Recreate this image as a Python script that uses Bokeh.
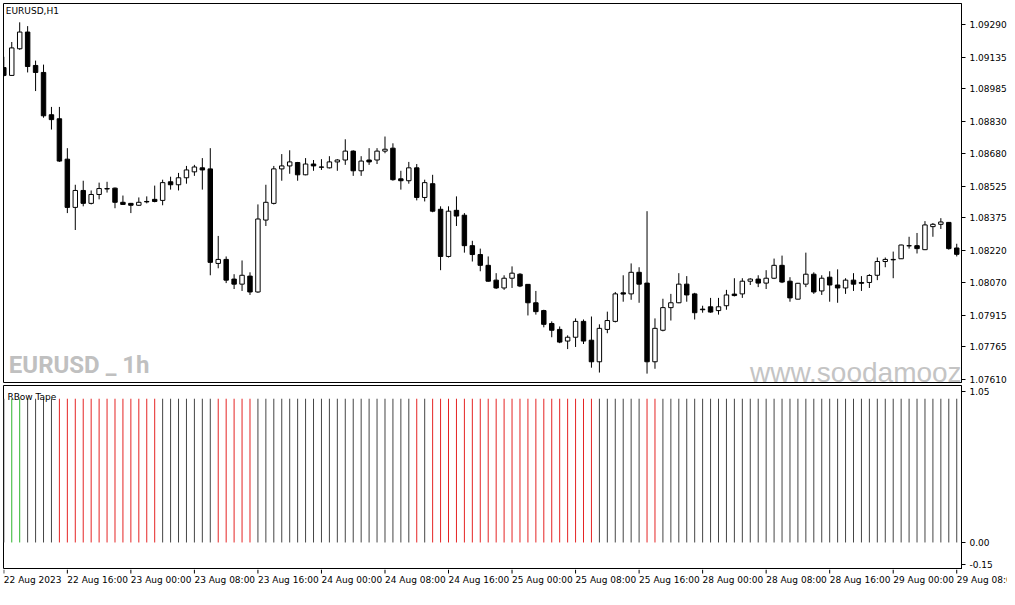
from bokeh.plotting import figure
from bokeh.layouts import column
from bokeh.models import ColumnDataSource, FixedTicker, PrintfTickFormatter, Label, Range1d
from bokeh.embed import file_html
from bokeh.resources import INLINE
from bokeh.core.properties import value

# ---------------- data (EURUSD, H1) ----------------
opens = [
    1.09085, 1.09048, 1.09174, 1.09253, 1.09095, 1.09062, 1.08862, 1.08843, 1.08652, 1.08424,
    1.08504, 1.08443, 1.08485, 1.08513, 1.08515, 1.08448, 1.08443, 1.08434, 1.08452, 1.08462,
    1.08457, 1.08545, 1.08531, 1.08564, 1.08592, 1.08611, 1.08606, 1.08159, 1.08178, 1.08085,
    1.08061, 1.08099, 1.08024, 1.08364, 1.08443, 1.08606, 1.08620, 1.08636, 1.08578, 1.08629,
    1.08615, 1.08611, 1.08639, 1.08648, 1.08690, 1.08597, 1.08648, 1.08648, 1.08690, 1.08704,
    1.08559, 1.08550, 1.08611, 1.08471, 1.08536, 1.08415, 1.08192, 1.08410, 1.08387, 1.08243,
    1.08201, 1.08150, 1.08080, 1.08043, 1.08089, 1.08108, 1.08060, 1.07973, 1.07936, 1.07875,
    1.07847, 1.07792, 1.07810, 1.07885, 1.07796, 1.07694, 1.07847, 1.07885, 1.08020, 1.08015,
    1.08117, 1.08066, 1.07694, 1.07843, 1.07950, 1.07973, 1.08061, 1.08015, 1.07943, 1.07954,
    1.07936, 1.07959, 1.08014, 1.08015, 1.08075, 1.08085, 1.08066, 1.08089, 1.08150, 1.08075,
    1.07990, 1.08061, 1.08108, 1.08029, 1.08094, 1.08057, 1.08043, 1.08080, 1.08069, 1.08069,
    1.08103, 1.08168, 1.08176, 1.08181, 1.08243, 1.08243, 1.08224, 1.08333, 1.08344, 1.08353,
    1.08232]
highs = [
    1.09136, 1.09206, 1.09299, 1.09281, 1.09118, 1.09099, 1.08899, 1.08899, 1.08704, 1.08531,
    1.08550, 1.08504, 1.08541, 1.08545, 1.08518, 1.08480, 1.08445, 1.08471, 1.08476, 1.08527,
    1.08555, 1.08569, 1.08587, 1.08620, 1.08625, 1.08657, 1.08704, 1.08289, 1.08192, 1.08108,
    1.08173, 1.08117, 1.08438, 1.08531, 1.08620, 1.08676, 1.08694, 1.08639, 1.08657, 1.08648,
    1.08652, 1.08666, 1.08652, 1.08746, 1.08694, 1.08666, 1.08704, 1.08704, 1.08759, 1.08727,
    1.08597, 1.08639, 1.08629, 1.08555, 1.08578, 1.08429, 1.08429, 1.08476, 1.08397, 1.08266,
    1.08229, 1.08192, 1.08113, 1.08103, 1.08145, 1.08113, 1.08061, 1.08029, 1.07940, 1.07885,
    1.07861, 1.07819, 1.07899, 1.07894, 1.07908, 1.07871, 1.07931, 1.08024, 1.08103, 1.08159,
    1.08141, 1.08406, 1.07899, 1.07992, 1.08015, 1.08113, 1.08099, 1.08020, 1.07959, 1.07996,
    1.07996, 1.08034, 1.08089, 1.08089, 1.08089, 1.08103, 1.08127, 1.08182, 1.08196, 1.08094,
    1.08067, 1.08210, 1.08117, 1.08103, 1.08122, 1.08131, 1.08089, 1.08113, 1.08099, 1.08108,
    1.08187, 1.08187, 1.08215, 1.08248, 1.08285, 1.08303, 1.08359, 1.08350, 1.08373, 1.08355,
    1.08252]
lows = [
    1.09043, 1.09046, 1.09169, 1.09062, 1.08974, 1.08848, 1.08792, 1.08639, 1.08397, 1.08317,
    1.08429, 1.08438, 1.08462, 1.08494, 1.08420, 1.08436, 1.08397, 1.08431, 1.08443, 1.08448,
    1.08434, 1.08508, 1.08504, 1.08536, 1.08573, 1.08508, 1.08103, 1.08136, 1.08066, 1.08038,
    1.08029, 1.08010, 1.08020, 1.08336, 1.08438, 1.08550, 1.08583, 1.08550, 1.08576, 1.08597,
    1.08601, 1.08608, 1.08597, 1.08625, 1.08573, 1.08573, 1.08625, 1.08629, 1.08680, 1.08550,
    1.08508, 1.08536, 1.08457, 1.08452, 1.08401, 1.08127, 1.08187, 1.08336, 1.08210, 1.08168,
    1.08122, 1.08073, 1.08038, 1.08034, 1.08043, 1.08047, 1.07913, 1.07917, 1.07857, 1.07810,
    1.07782, 1.07754, 1.07764, 1.07778, 1.07666, 1.07643, 1.07829, 1.07880, 1.07978, 1.07987,
    1.07973, 1.07638, 1.07661, 1.07838, 1.07889, 1.07971, 1.07978, 1.07894, 1.07926, 1.07926,
    1.07917, 1.07940, 1.08003, 1.07996, 1.08057, 1.08047, 1.08038, 1.08085, 1.08066, 1.07978,
    1.07989, 1.08047, 1.08015, 1.08010, 1.07978, 1.07973, 1.08015, 1.08029, 1.08029, 1.08043,
    1.08080, 1.08141, 1.08089, 1.08180, 1.08229, 1.08206, 1.08222, 1.08285, 1.08322, 1.08224,
    1.08192]
closes = [
    1.09048, 1.09178, 1.09253, 1.09090, 1.09062, 1.08857, 1.08839, 1.08643, 1.08424, 1.08504,
    1.08443, 1.08485, 1.08513, 1.08511, 1.08448, 1.08438, 1.08434, 1.08448, 1.08450, 1.08452,
    1.08541, 1.08531, 1.08564, 1.08601, 1.08615, 1.08601, 1.08164, 1.08178, 1.08080, 1.08061,
    1.08103, 1.08024, 1.08369, 1.08448, 1.08606, 1.08620, 1.08639, 1.08578, 1.08629, 1.08620,
    1.08614, 1.08639, 1.08648, 1.08690, 1.08597, 1.08643, 1.08639, 1.08690, 1.08699, 1.08555,
    1.08550, 1.08611, 1.08471, 1.08541, 1.08406, 1.08192, 1.08406, 1.08383, 1.08243, 1.08201,
    1.08150, 1.08075, 1.08043, 1.08089, 1.08113, 1.08052, 1.07973, 1.07931, 1.07871, 1.07843,
    1.07787, 1.07810, 1.07885, 1.07792, 1.07694, 1.07852, 1.07889, 1.08015, 1.08014, 1.08117,
    1.08061, 1.07694, 1.07852, 1.07950, 1.07973, 1.08061, 1.08010, 1.07926, 1.07940, 1.07929,
    1.07954, 1.08010, 1.08007, 1.08075, 1.08085, 1.08066, 1.08089, 1.08150, 1.08071, 1.07996,
    1.08065, 1.08108, 1.08024, 1.08089, 1.08057, 1.08043, 1.08080, 1.08061, 1.08065, 1.08102,
    1.08168, 1.08178, 1.08178, 1.08246, 1.08242, 1.08229, 1.08341, 1.08344, 1.08355, 1.08229,
    1.08202]

# RBow Tape state per bar: 1 = up (green), 0 = neutral (gray), -1 = down (red)
tape_state = [
    0, 1, 1, 0, 0, 0, 0, -1, -1, -1,
    -1, -1, -1, -1, -1, -1, -1, -1, -1, -1,
    0, 0, 0, 0, 0, 0, 0, -1, -1, -1,
    -1, -1, 0, 0, 0, 0, 0, 0, 0, 0,
    0, 0, 0, 0, 0, 0, 0, 0, 0, 0,
    0, 0, -1, 0, -1, -1, -1, -1, -1, -1,
    -1, -1, -1, -1, -1, -1, -1, -1, -1, -1,
    -1, -1, -1, -1, -1, 0, 0, 0, 0, 0,
    0, -1, -1, 0, 0, 0, 0, 0, 0, 0,
    0, 0, 0, 0, 0, 0, 0, 0, 0, 0,
    0, 0, 0, 0, 0, 0, 0, 0, 0, 0,
    0, 0, 0, 0, 0, 0, 0, 0, 0, 0,
    0]
tape_level = 1.0

price_ticks = [1.07610, 1.07765, 1.07915, 1.08070, 1.08220, 1.08375,
               1.08525, 1.08680, 1.08830, 1.08985, 1.09135, 1.09290]
tape_ticks = [-0.15, 0.00, 1.05]
time_tick_bars = [0, 8, 16, 24, 32, 40, 48, 56, 64, 72, 80, 88, 96, 104, 112, 120]
time_tick_labels = ["22 Aug 2023", "22 Aug 16:00", "23 Aug 00:00", "23 Aug 08:00",
                    "23 Aug 16:00", "24 Aug 00:00", "24 Aug 08:00", "24 Aug 16:00",
                    "25 Aug 00:00", "25 Aug 08:00", "25 Aug 16:00", "28 Aug 00:00",
                    "28 Aug 08:00", "28 Aug 16:00", "29 Aug 00:00", "29 Aug 08:00"]

# ---------------- styling / layout ----------------
FONT = "DejaVu Sans"
FS = "9px"
TOTAL_W = 1007
LEFT = 3
RIGHT = 46
FW = TOTAL_W - LEFT - RIGHT          # plot frame width
X_START, X_END = -0.04, 120.6
PPB = FW / (X_END - X_START)          # pixels per bar
AXIS_H = 19
TAPE_COLORS = {1: "#2fb52f", 0: "#454545", -1: "#e52424"}

n = len(opens)
idx = list(range(n))
bull = [c >= o for o, c in zip(opens, closes)]
candles = ColumnDataSource(dict(
    x=idx,
    top=[max(o, c) for o, c in zip(opens, closes)],
    bottom=[min(o, c) for o, c in zip(opens, closes)],
    high=highs, low=lows,
    fill=["white" if b else "black" for b in bull],
))

x_range = Range1d(X_START, X_END)


def style_common(p):
    p.grid.visible = False
    p.outline_line_color = "black"
    p.outline_line_width = 1
    p.outline_line_alpha = 1.0
    p.background_fill_color = "white"
    p.border_fill_color = "white"


def style_yaxis(ax, ticks, fmt):
    ax.ticker = FixedTicker(ticks=ticks)
    ax.formatter = PrintfTickFormatter(format=fmt)
    ax.major_tick_out = 4
    ax.major_tick_in = 0
    ax.minor_tick_out = 0
    ax.minor_tick_in = 0
    ax.axis_line_color = "black"
    ax.major_tick_line_color = "black"
    ax.major_label_text_font = FONT
    ax.major_label_text_font_size = FS
    ax.major_label_text_color = "black"
    ax.major_label_standoff = 4


# ---------------- price panel ----------------
p1 = figure(frame_width=FW, frame_height=379, x_range=x_range,
            y_range=Range1d(1.07596, 1.09388),
            output_backend="svg", toolbar_location=None,
            x_axis_location=None, y_axis_location="right",
            min_border_left=LEFT, min_border_top=3, min_border_bottom=3,
            min_border_right=RIGHT)
style_common(p1)
style_yaxis(p1.yaxis[0], price_ticks, "%.5f")

# watermarks (clipped by the frame like the original)
p1.text(x=[0.63], y=[1.07678], text=["EURUSD _ 1h"],
        text_font=value("Roboto"), text_font_style="bold", text_font_size="24px",
        text_color="#c0c0c0", text_baseline="middle", text_align="left")
p1.text(x=[93.96], y=[1.07645], text=["www.soodamooz.com"],
        text_font=value("Liberation Sans"), text_font_size="28px", text_color="#c4c4c4",
        text_baseline="middle", text_align="left")

p1.segment(x0="x", y0="low", x1="x", y1="high", source=candles,
           line_color="black", line_width=1)
p1.vbar(x="x", width=0.56, top="top", bottom="bottom", source=candles,
        fill_color="fill", line_color="black", line_width=1)

p1.add_layout(Label(x=0.25, y=1.09374, text="EURUSD,H1", text_font=FONT,
                    text_font_size=FS, text_color="black", text_baseline="top"))

# ---------------- RBow Tape panel ----------------
p2 = figure(frame_width=FW, frame_height=184, x_range=x_range,
            y_range=Range1d(-0.188, 1.092),
            output_backend="svg", toolbar_location=None,
            x_axis_location=None, y_axis_location="right",
            min_border_left=LEFT, min_border_top=0, min_border_bottom=0,
            min_border_right=RIGHT)
style_common(p2)
style_yaxis(p2.yaxis[0], tape_ticks, "%.2f")

tape = ColumnDataSource(dict(
    x=idx, y0=[0.0] * n, y1=[tape_level] * n,
    color=[TAPE_COLORS[s] for s in tape_state],
))
p2.segment(x0="x", y0="y0", x1="x", y1="y1", source=tape, line_color="color", line_width=1)

p2.add_layout(Label(x=0.45, y=1.05, text="RBow Tape", text_font=FONT,
                    text_font_size=FS, text_color="black", text_baseline="top"))

# ---------------- time scale strip (MT-style left-aligned labels) ----------------
p3 = figure(frame_width=TOTAL_W - LEFT, frame_height=AXIS_H,
            x_range=Range1d(X_START, X_START + (TOTAL_W - LEFT) / PPB),
            y_range=Range1d(0, AXIS_H),
            output_backend="svg", toolbar_location=None,
            x_axis_location=None, y_axis_location=None,
            min_border_left=LEFT, min_border_top=0, min_border_bottom=0, min_border_right=0)
p3.grid.visible = False
p3.outline_line_color = None
p3.background_fill_color = "white"
p3.border_fill_color = "white"
p3.segment(x0=time_tick_bars, y0=[AXIS_H] * len(time_tick_bars),
           x1=time_tick_bars, y1=[AXIS_H - 4] * len(time_tick_bars),
           line_color="black", line_width=1)
p3.text(x=time_tick_bars, y=[AXIS_H - 5] * len(time_tick_bars), text=time_tick_labels,
        text_font=value(FONT), text_font_size=FS, text_color="black",
        text_align="left", text_baseline="top")

layout = column(p1, p2, p3, spacing=0)
open("out.html", "w").write(file_html(layout, INLINE))
